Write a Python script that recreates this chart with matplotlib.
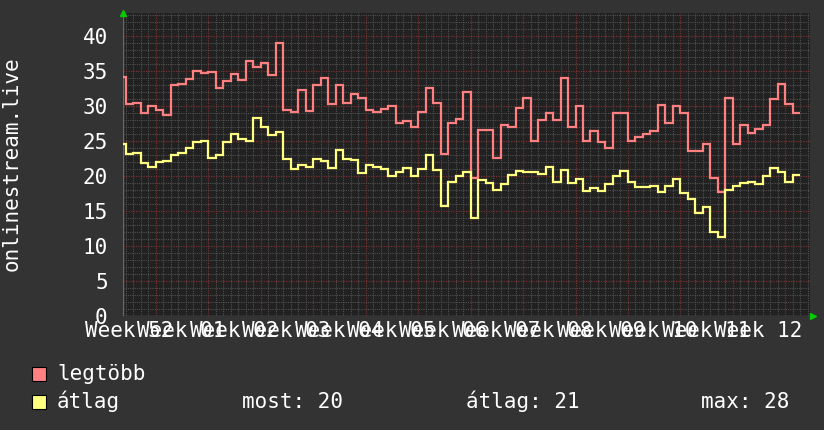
import numpy as np
import matplotlib
matplotlib.use("Agg")
import matplotlib.pyplot as plt
from matplotlib.patches import Rectangle

plt.rcParams['font.family'] = ['DejaVu Sans Mono']

# daily values, first value is day -1 (partially visible)
legtobb = [34.1, 30.2, 30.4, 29.0, 30.0, 29.4, 28.7, 33.0, 33.1, 33.8,
           35.0, 34.7, 34.8, 32.5, 33.5, 34.6, 33.7, 36.4, 35.6, 36.1,
           34.4, 39.0, 29.4, 29.1, 32.2, 29.3, 33.0, 33.9, 30.3, 33.0,
           30.4, 31.7, 31.1, 29.4, 29.1, 29.5, 30.0, 27.5, 27.8, 27.0,
           29.1, 32.5, 30.4, 23.1, 27.6, 28.1, 31.9, 19.7, 26.6, 26.6,
           22.5, 27.3, 27.0, 29.7, 31.1, 25.0, 28.0, 29.0, 28.0, 33.9,
           27.0, 30.0, 24.9, 26.4, 24.8, 24.0, 29.0, 29.0, 25.0, 25.6,
           26.0, 26.4, 30.1, 27.5, 30.0, 28.9, 23.6, 23.6, 24.6, 19.7,
           17.7, 31.1, 24.6, 27.3, 26.1, 26.7, 27.3, 31.0, 33.1, 30.2,
           29.0]
atlag = [24.5, 23.1, 23.2, 21.8, 21.2, 21.9, 22.1, 22.9, 23.3, 24.0,
         24.8, 25.0, 22.6, 23.0, 24.8, 26.0, 25.2, 25.0, 28.2, 27.0,
         25.8, 26.3, 22.4, 20.9, 21.5, 21.3, 22.4, 22.1, 21.1, 23.7,
         22.4, 22.3, 20.4, 21.5, 21.3, 21.0, 20.0, 20.6, 21.1, 19.9,
         21.0, 23.0, 20.8, 15.7, 19.1, 20.0, 20.6, 14.0, 19.4, 19.0,
         18.0, 18.8, 20.1, 20.7, 20.5, 20.6, 20.2, 21.3, 19.1, 20.8,
         19.0, 19.5, 17.8, 18.3, 17.8, 18.8, 20.0, 20.7, 19.1, 18.4,
         18.4, 18.6, 17.7, 18.5, 19.5, 17.5, 16.7, 14.7, 15.6, 11.9,
         11.3, 18.0, 18.5, 19.0, 19.1, 18.8, 20.0, 21.1, 20.6, 19.1,
         20.1]
week_labels = ["Week 52", "Week 01", "Week 02", "Week 03", "Week 04", "Week 05",
               "Week 06", "Week 07", "Week 08", "Week 09", "Week 10", "Week 11",
               "Week 12"]
ytick_vals = [0, 5, 10, 15, 20, 25, 30, 35, 40]
ylabel = "onlinestream.live"
legend_names = ["legtöbb", "átlag"]
stats = ["most: 20", "átlag: 21", "max: 28"]

RED = "#ff8080"
YEL = "#ffff80"
BG = "#333333"
PLOTBG = "#212121"
FS = 15

W, H = 824, 430
fig = plt.figure(figsize=(W / 100, H / 100), dpi=100, facecolor=BG)
L, R, T, B = 123, 810, 13.3, 315.7
ax = fig.add_axes([L / W, 1 - B / H, (R - L) / W, (B - T) / H])
ax.set_facecolor(PLOTBG)

xmin, xmax = -0.4, 91.3
ymin, ymax = 0, 43.2
ax.set_xlim(xmin, xmax)
ax.set_ylim(ymin, ymax)

# grids
days = np.arange(0, 92)
week_ticks = np.arange(4, 92, 7)
minor_days = [d for d in days if d not in set(week_ticks)]
ax.vlines(minor_days, ymin, ymax, colors="#505050", linestyles=(0, (1, 1)), lw=0.8, zorder=1)
ax.vlines(week_ticks, ymin, ymax, colors="#7a3030", linestyles=(0, (1, 1)), lw=0.9, zorder=1)
units = np.arange(1, 44)
minor_units = [u for u in units if u % 5 != 0]
ax.hlines(minor_units, xmin, xmax, colors="#505050", linestyles=(0, (1, 1)), lw=0.8, zorder=1)
ax.hlines([u for u in units if u % 5 == 0], xmin, xmax, colors="#7a3030",
          linestyles=(0, (1, 1)), lw=0.9, zorder=1)

edges = np.arange(-1, len(legtobb))
ax.stairs(legtobb, edges, baseline=None, color=RED, lw=1.6, zorder=3)
ax.stairs(atlag, edges, baseline=None, color=YEL, lw=1.6, zorder=3)

for s in ax.spines.values():
    s.set_visible(False)
ax.axhline(0, color="#6a6a6a", lw=1.0, zorder=2)
ax.axvline(xmin, color="#6a6a6a", lw=1.0, zorder=2)

ax.set_yticks(ytick_vals)
ax.set_yticklabels([str(v) for v in ytick_vals])
ax.set_xticks(week_ticks - 3.6)
ax.set_xticklabels(week_labels)
ax.tick_params(axis="both", length=0, colors="white", labelsize=FS)
ax.tick_params(axis="y", pad=11)
ax.tick_params(axis="x", pad=4)

# arrows
ax.plot([xmin], [ymax], marker="^", color="#00cc00", ms=5, clip_on=False, zorder=5)
ax.plot([xmax + 0.35], [0], marker=">", color="#00cc00", ms=5, clip_on=False, zorder=5)

fig.text(11.5 / W, 1 - 164 / H, ylabel, rotation=90, color="white", fontsize=FS,
         ha="center", va="center")

# legend
rows = [380, 408]
cols = [RED, YEL]
for name, c, yb in zip(legend_names, cols, rows):
    fig.patches.append(Rectangle((32 / W, 1 - (yb + 1) / H), 14 / W, 14 / H,
                                 transform=fig.transFigure, facecolor=c,
                                 edgecolor="black", lw=0.8))
    fig.text(57 / W, 1 - yb / H, name, color="white", fontsize=FS, ha="left", va="baseline")
for s, xs in zip(stats, [242, 466, 701]):
    fig.text(xs / W, 1 - rows[1] / H, s, color="white", fontsize=FS, ha="left", va="baseline")

fig.savefig("out.png", dpi=100, facecolor=BG)
